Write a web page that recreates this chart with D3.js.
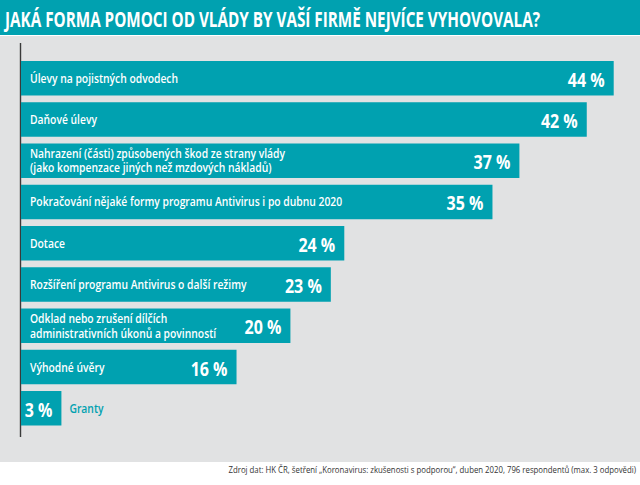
<!DOCTYPE html>
<html><head><meta charset="utf-8">
<script src="https://cdn.jsdelivr.net/npm/d3@7"></script>
<style>body{margin:0;background:#fff}svg{display:block}</style>
</head><body>
<script>
const categories = [
  ["Úlevy na pojistných odvodech"],
  ["Daňové úlevy"],
  ["Nahrazení (části) způsobených škod ze strany vlády", "(jako kompenzace jiných než mzdových nákladů)"],
  ["Pokračování nějaké formy programu Antivirus i po dubnu 2020"],
  ["Dotace"],
  ["Rozšíření programu Antivirus o další režimy"],
  ["Odklad nebo zrušení dílčích", "administrativních úkonů a povinností"],
  ["Výhodné úvěry"],
  ["Granty"]
];
const values = [44, 42, 37, 35, 24, 23, 20, 16, 3];
const title = "JAKÁ FORMA POMOCI OD VLÁDY BY VAŠÍ FIRMĚ NEJVÍCE VYHOVOVALA?";
const source = "Zdroj dat: HK ČR, šetření „Koronavirus: zkušenosti s podporou“, duben 2020, 796 respondentů (max. 3 odpovědi)";

const W = 640, H = 485;
const teal = "#00a1b0", gray = "#e1e2e3";
const svg = d3.select("body").append("svg").attr("width", W).attr("height", H);

function condense(sel, k) {
  sel.each(function () {
    const len = this.getComputedTextLength();
    d3.select(this).attr("textLength", len * k).attr("lengthAdjust", "spacingAndGlyphs");
  });
}

// title band
svg.append("rect").attr("x", 0).attr("y", 0).attr("width", W).attr("height", 35).attr("fill", teal);
svg.append("text").attr("x", 5).attr("y", 27).text(title)
  .attr("fill", "#fff").attr("font-family", "Open Sans").attr("font-weight", 700).attr("font-size", 21)
  .attr("textLength", 535).attr("lengthAdjust", "spacingAndGlyphs");
// gray panel
svg.append("rect").attr("x", 0).attr("y", 36).attr("width", W).attr("height", 426).attr("fill", gray);

const keys = categories.map((c, i) => i);
const x = d3.scaleLinear().domain([0, 44]).range([21, 613.7]);
const y = d3.scaleBand().domain(keys).range([61, 425.5]).paddingInner(0.164).paddingOuter(0);

// axis line
svg.append("line").attr("x1", 20.5).attr("x2", 20.5).attr("y1", 43).attr("y2", 437)
  .attr("stroke", "#3a3a3a").attr("stroke-width", 1.4);

const g = svg.append("g").selectAll("g").data(keys).join("g");
g.append("rect").attr("x", x(0)).attr("y", i => y(i))
  .attr("width", i => x(values[i]) - x(0)).attr("height", y.bandwidth()).attr("fill", teal);

// value labels
g.append("text").attr("x", i => x(values[i]) - 9).attr("y", i => y(i) + y.bandwidth() / 2 + 1)
  .attr("text-anchor", "end").attr("dominant-baseline", "central")
  .attr("fill", "#fff").attr("font-family", "Open Sans").attr("font-weight", 700).attr("font-size", 20)
  .text(i => values[i] + " %").call(condense, 0.8);

// category labels
g.each(function (i) {
  const lines = categories[i];
  const small = values[i] < 5;
  const cx = small ? x(values[i]) + 8 : 30;
  const cy = y(i) + y.bandwidth() / 2;
  lines.forEach((l, j) => {
    d3.select(this).append("text")
      .attr("fill", small ? teal : "#fff").attr("font-family", "Open Sans").attr("font-weight", 600)
      .attr("font-size", 12).attr("dominant-baseline", "central")
      .attr("x", cx).attr("y", cy + (j - (lines.length - 1) / 2) * 14.5).text(l)
      .call(condense, 0.86);
  });
});

// source
svg.append("text").attr("x", 636).attr("y", 473).attr("text-anchor", "end")
  .attr("fill", "#333").attr("font-family", "Open Sans").attr("font-size", 9.5)
  .text(source).call(condense, 0.82);
</script>
</body></html>
